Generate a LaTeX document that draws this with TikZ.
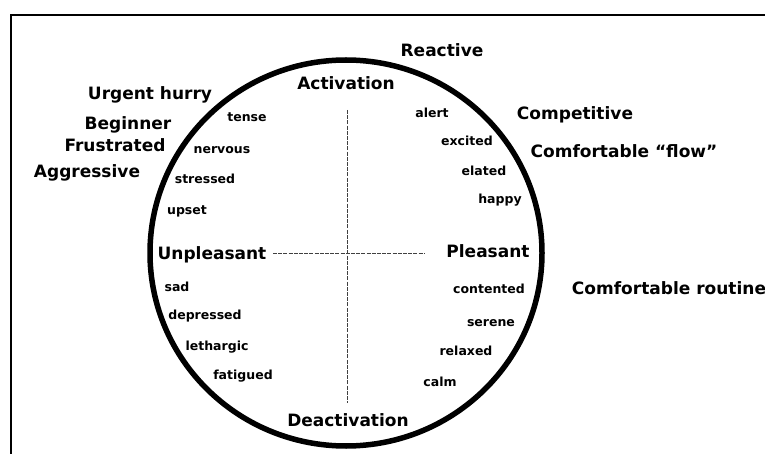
\documentclass[tikz,border=0pt]{standalone}
\usepackage{fontspec}
\setmainfont{DejaVu Sans}
\begin{document}
\begin{tikzpicture}[x=1pt,y=-1pt,
  big/.style={font=\fontsize{17}{20}\selectfont\bfseries, anchor=mid, inner sep=0pt},
  small/.style={font=\fontsize{12.5}{14}\selectfont\bfseries, anchor=mid, inner sep=0pt},
  axisline/.style={line width=0.8pt, black!75, dash pattern=on 4pt off 1.2pt},
  ring/.style={line width=5.5pt},
  frameline/.style={line width=1.6pt}]
\useasboundingbox (0,0) rectangle (765,454);
% frame
\coordinate (ftr) at (765,15);
\coordinate (ftl) at (11,15);
\coordinate (fbl) at (11,454);
\draw[frameline] (ftr) -- (ftl) -- (fbl);
% circle
\coordinate (ctr) at (346,253);
\draw[ring] (ctr) ellipse [x radius=196pt, y radius=193pt];
% axes
\coordinate (vtop) at (347,110);
\coordinate (vbot) at (347,403);
\coordinate (hl) at (273,253);
\coordinate (hr) at (424,253);
\draw[axisline] (vtop) -- (vbot);
\draw[axisline] (hl) -- (hr);
% axis labels
\node[big] (act) at (346,86.5) {Activation};
\node[big] (deact) at (348,423.5) {Deactivation};
\node[big] (unpl) at (212,256.5) {Unpleasant};
\node[big] (pleas) at (488,254.5) {Pleasant};
% outer labels
\node[big] (reac) at (442,53.5) {Reactive};
\node[big] (urg) at (150,96.5) {Urgent hurry};
\node[big] (beg) at (128,126.5) {Beginner};
\node[big] (frus) at (115,148.5) {Frustrated};
\node[big] (aggr) at (87,174.5) {Aggressive};
\node[big] (comp) at (575,116.5) {Competitive};
\node[big] (flow) at (624,154.5) {Comfortable ``flow''};
\node[big] (rout) at (669,291.5) {Comfortable routine};
% inner small labels
\node[small] (tense) at (247,119) {tense};
\node[small] (nerv) at (222,151) {nervous};
\node[small] (stress) at (205,181) {stressed};
\node[small] (upset) at (187,212) {upset};
\node[small] (sad) at (177,289) {sad};
\node[small] (depr) at (205,317) {depressed};
\node[small] (leth) at (217,348) {lethargic};
\node[small] (fat) at (243,377) {fatigued};
\node[small] (alert) at (432,115) {alert};
\node[small] (exc) at (467,143) {excited};
\node[small] (elat) at (484,173) {elated};
\node[small] (happy) at (500,201) {happy};
\node[small] (cont) at (489,291) {contented};
\node[small] (ser) at (491,324) {serene};
\node[small] (relax) at (466,353) {relaxed};
\node[small] (calm) at (440,384) {calm};
\end{tikzpicture}
\end{document}
